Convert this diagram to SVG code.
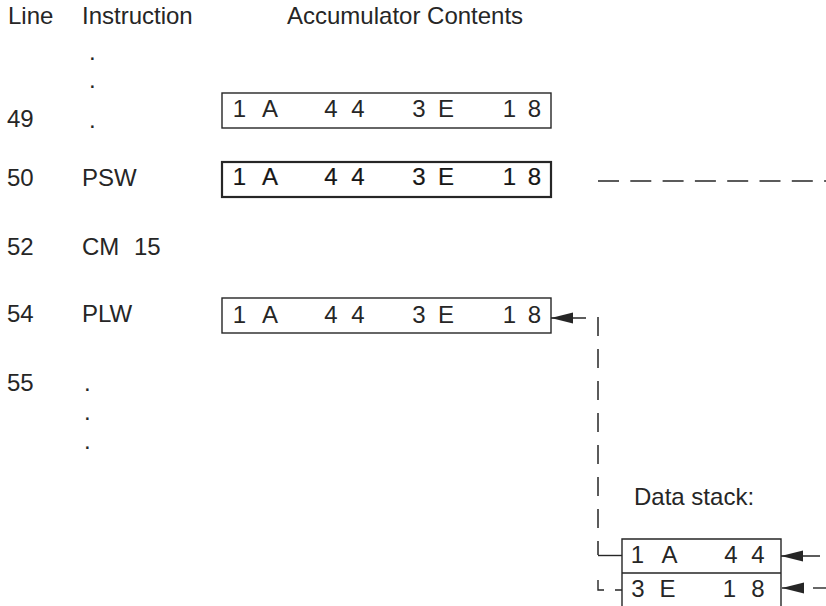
<svg xmlns="http://www.w3.org/2000/svg" width="826" height="606" viewBox="0 0 826 606">
<style>
text{font-family:"Liberation Sans",Arial,sans-serif;font-size:24px;fill:#262626}
.c{text-anchor:middle}
.box{fill:none;stroke:#262626;stroke-width:1.4}
.bold{stroke-width:2.2}
.ln{fill:none;stroke:#262626;stroke-width:1.4}
.dash{fill:none;stroke:#262626;stroke-width:1.5}
</style>
<defs>
<marker id="ah" markerWidth="22" markerHeight="12" refX="22" refY="6" orient="auto" markerUnits="userSpaceOnUse">
<path d="M0,0.5 L22,6 L0,11.5 Z" fill="#262626"/>
</marker>
</defs>
<rect width="826" height="606" fill="#fff"/>

<g id="headers">
<text x="8" y="24">Line</text>
<text x="82" y="24">Instruction</text>
<text x="287" y="24">Accumulator Contents</text>
</g>

<g id="row49">
<text x="89" y="60">.</text>
<text x="89" y="88">.</text>
<text x="7" y="127">49</text>
<text x="89" y="128">.</text>
</g>
<g id="acc49">
<rect class="box" x="222" y="93" width="329" height="35"/>
<text class="c" x="239.5 270 331 358 419 446 509.5 534.5" y="117">1A443E18</text>
</g>

<g id="row50">
<text x="7" y="186">50</text>
<text x="82" y="186">PSW</text>
</g>
<g id="acc50">
<rect class="box bold" x="222" y="162" width="329" height="35"/>
<text class="c" x="239.5 270 331 358 419 446 509.5 534.5" y="185" style="fill:#161616;stroke:#161616;stroke-width:0.2">1A443E18</text>
</g>

<g id="row52">
<text x="7" y="255">52</text>
<text x="82" y="255">CM</text>
<text x="134" y="255">15</text>
</g>

<g id="row54">
<text x="7" y="322">54</text>
<text x="82" y="322">PLW</text>
</g>
<g id="acc54">
<rect class="box" x="222" y="298" width="329" height="35"/>
<text class="c" x="239.5 270 331 358 419 446 509.5 534.5" y="323">1A443E18</text>
</g>

<g id="row55">
<text x="7" y="391">55</text>
<text x="84" y="391">.</text>
<text x="84" y="420">.</text>
<text x="84" y="449">.</text>
</g>

<g id="datastack">
<text x="634" y="505">Data stack:</text>
<path class="box" d="M622,606 V539 H781 V606 M622,573 H781"/>
<text class="c" x="637.5 669.5 731 758" y="563">1A44</text>
<text class="c" x="638 667.5 729.5 758" y="597">3E18</text>
</g>

<g id="connectors">
<path class="dash" d="M598,181 H826" stroke-dasharray="21 11.3"/>
<path class="ln" d="M586,318 H551" marker-end="url(#ah)"/>
<path class="dash" d="M598,317 V555" stroke-dasharray="19 13"/>
<path class="ln" d="M598,555.5 H622"/>
<path class="ln" d="M598,580 V590 H604 M615,590 H622"/>
<path class="ln" d="M820,556 H781" marker-end="url(#ah)"/>
<path class="ln" d="M803,588 H782" marker-end="url(#ah)"/>
<path class="ln" d="M813,588 H826"/>
</g>
</svg>
